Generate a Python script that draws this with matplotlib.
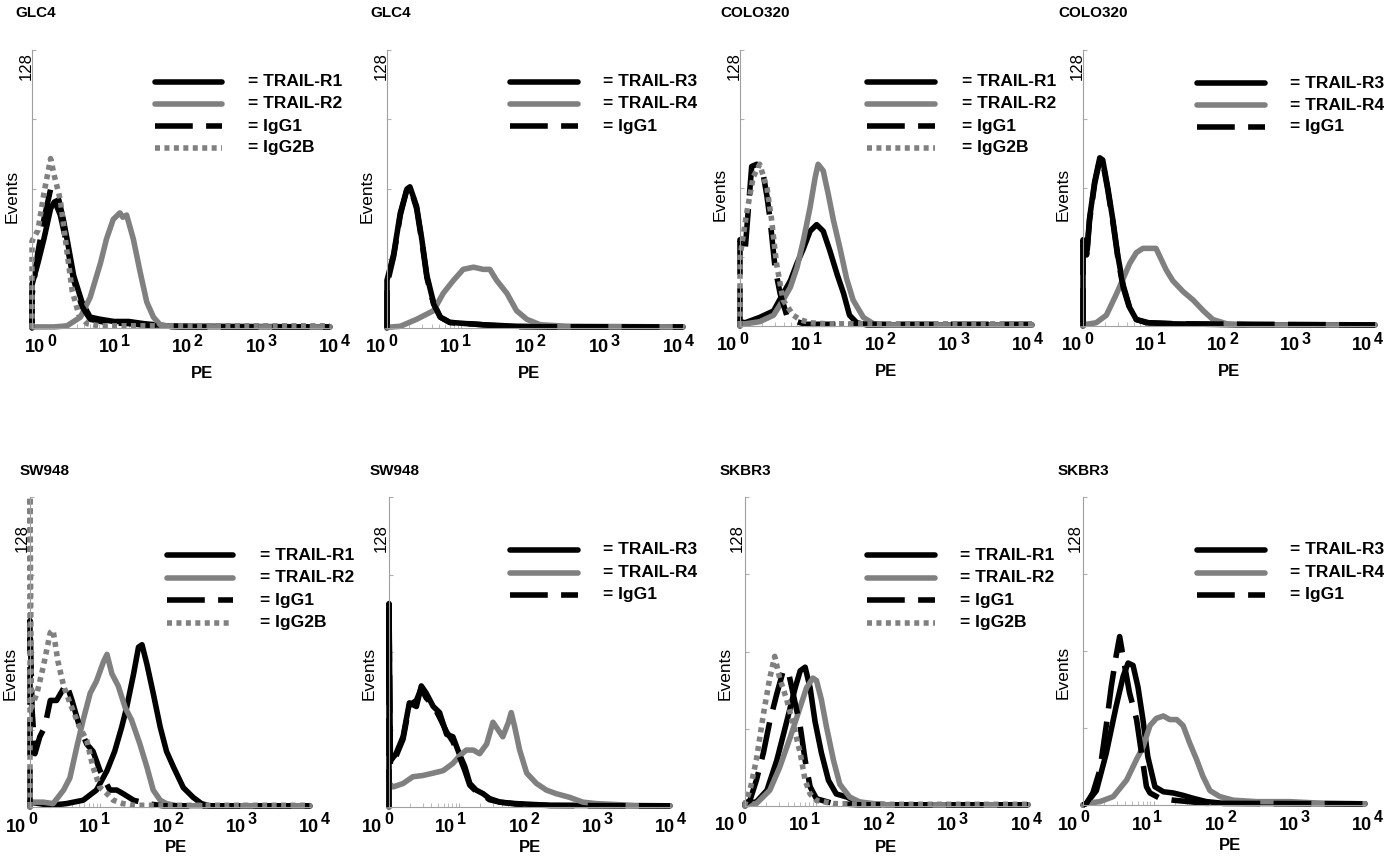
import numpy as np
import matplotlib
matplotlib.use('Agg')
import matplotlib.pyplot as plt
from matplotlib.lines import Line2D

plt.rcParams['font.family'] = ['Liberation Sans', 'DejaVu Sans']

W, H = 1387, 858

# histogram curves: (log10 PE, events) pairs
# GLC4, TRAIL-R1/R2
GLC4_R1 = [(0, 0), (0, 20), (0.08, 30), (0.16, 41), (0.25, 55), (0.3, 58), (0.36, 59), (0.42, 50),
           (0.47, 41), (0.56, 24), (0.67, 12), (0.78, 5), (0.92, 4), (1.1, 3), (1.3, 3), (1.5, 2),
           (1.8, 1), (2.2, 0.8), (4, 0.5)]
GLC4_R2 = [(0, 0.5), (0.3, 0.5), (0.47, 1), (0.65, 5), (0.78, 14), (0.92, 30), (1.0, 41), (1.09, 50),
           (1.18, 53), (1.22, 51), (1.27, 52), (1.36, 41), (1.45, 26), (1.54, 12), (1.63, 5),
           (1.72, 1.5), (1.9, 0.5), (4, 0.5)]
GLC4_IGG1_A = [(0, 0), (0, 15), (0.08, 35), (0.16, 50), (0.25, 64), (0.31, 58), (0.38, 52), (0.47, 38),
               (0.56, 22), (0.67, 10), (0.78, 4), (1.0, 2.5), (1.3, 2), (1.6, 1), (2, 0.5), (4, 0.5)]
GLC4_IGG2B = [(0, 0), (0, 40), (0.08, 45), (0.16, 62), (0.25, 78), (0.3, 70), (0.38, 59), (0.47, 35),
              (0.54, 17), (0.63, 6), (0.74, 2), (0.9, 1), (4, 1)]

# GLC4, TRAIL-R3/R4
GLC4_R3 = [(0, 0), (0, 22), (0.09, 34), (0.18, 53), (0.27, 64), (0.31, 65), (0.4, 56), (0.47, 41),
           (0.54, 24), (0.63, 11.5), (0.72, 5), (0.85, 2.6), (1.08, 2), (1.3, 1.5), (1.75, 0.8),
           (2.2, 0.5), (4, 0.5)]
GLC4_R4 = [(0, 0.3), (0.18, 0.8), (0.4, 4), (0.63, 8), (0.76, 16), (0.9, 22), (1.03, 27), (1.17, 28),
           (1.3, 27), (1.39, 27), (1.48, 22), (1.62, 16), (1.75, 8), (1.89, 4), (2.07, 1.5),
           (2.43, 0.8), (4, 0.5)]
GLC4_IGG1_B = [(0, 0), (0, 20), (0.09, 33), (0.18, 52), (0.27, 64), (0.32, 64), (0.4, 55), (0.47, 40),
               (0.54, 23), (0.63, 11), (0.72, 5), (0.85, 2.5), (1.1, 2), (1.4, 1.2), (1.8, 0.6), (4, 0.5)]

# COLO320, TRAIL-R1/R2
COLO_R1 = [(0, 0), (0, 2), (0.07, 1.5), (0.27, 4), (0.46, 7), (0.59, 15), (0.69, 21), (0.78, 29),
           (0.87, 36), (0.96, 44), (1.05, 47), (1.14, 44), (1.23, 35), (1.33, 24), (1.42, 15),
           (1.5, 5), (1.6, 1.5), (1.74, 0.5), (4, 0.5)]
COLO_R2 = [(0, 0), (0, 1), (0.07, 1), (0.27, 2), (0.46, 5), (0.59, 12), (0.69, 18), (0.78, 27),
           (0.87, 40), (0.96, 55), (1.03, 69), (1.07, 75), (1.14, 72), (1.21, 61), (1.28, 49),
           (1.37, 36), (1.46, 22), (1.55, 12), (1.69, 4), (1.83, 1), (2.0, 0.5), (4, 0.5)]
COLO_IGG1_A = [(0, 0), (0, 40), (0.07, 35), (0.16, 74), (0.23, 75), (0.3, 74), (0.37, 60), (0.41, 50),
               (0.48, 27), (0.55, 15), (0.64, 5), (0.78, 2), (0.9, 0.8), (4, 0.8)]
COLO_IGG2B = [(0, 0), (0, 32), (0.09, 52), (0.18, 69), (0.27, 75), (0.37, 64), (0.43, 50), (0.5, 29),
              (0.59, 12), (0.73, 5), (0.82, 3), (0.96, 1.5), (1.2, 1), (4, 1)]

# COLO320, TRAIL-R3/R4
COLO_R3 = [(0, 0), (0, 40), (0.05, 33), (0.09, 50), (0.16, 67), (0.23, 78), (0.27, 77), (0.34, 64),
           (0.41, 49), (0.48, 32), (0.55, 19), (0.64, 8.5), (0.73, 3), (0.87, 1.5), (1.23, 1),
           (1.7, 0.8), (2.2, 0.5), (4, 0.5)]
COLO_R4 = [(0, 0), (0, 1), (0.05, 0.8), (0.18, 1.5), (0.32, 5), (0.46, 15), (0.55, 22), (0.64, 29),
           (0.73, 34), (0.82, 36), (0.91, 36), (1.0, 36), (1.07, 31), (1.14, 26), (1.23, 21),
           (1.37, 16), (1.51, 12), (1.65, 7), (1.78, 3), (1.97, 1), (2.3, 0.5), (4, 0.5)]
COLO_IGG1_B = [(0, 0), (0, 38), (0.05, 32), (0.09, 49), (0.16, 66), (0.23, 77), (0.27, 76), (0.34, 63),
               (0.41, 48), (0.48, 31), (0.55, 18), (0.64, 8), (0.73, 3), (0.9, 1.5), (1.3, 1), (4, 0.5)]

# SW948, TRAIL-R1/R2
SW_R1 = [(0, 0), (0, 2), (0.29, 0.7), (0.52, 1.4), (0.76, 2.8), (0.95, 7), (1.1, 15), (1.21, 23),
         (1.31, 33), (1.38, 41), (1.48, 55), (1.55, 66), (1.6, 67), (1.67, 59), (1.76, 47), (1.86, 33),
         (1.95, 23), (2.05, 16.5), (2.19, 8), (2.33, 4), (2.45, 1.4), (2.57, 0.4), (4, 0.4)]
SW_R2 = [(0, 0), (0, 2), (0.19, 2), (0.33, 1.4), (0.48, 7), (0.57, 12), (0.67, 25), (0.76, 36),
         (0.86, 47), (0.95, 52), (1.05, 60), (1.1, 63), (1.17, 55), (1.26, 50), (1.36, 41), (1.45, 36),
         (1.57, 26), (1.67, 16.5), (1.76, 7), (1.86, 2.8), (1.95, 1.4), (2.1, 0.5), (4, 0.5)]
SW_IGG1_A = [(0, 0), (0, 77), (0.03, 40), (0.07, 22), (0.14, 29), (0.21, 33), (0.29, 44), (0.38, 44),
             (0.52, 51), (0.6, 44), (0.71, 33), (0.81, 26), (0.9, 23), (1.0, 15), (1.14, 7), (1.24, 7),
             (1.33, 5.5), (1.48, 2.8), (1.67, 1.4), (1.9, 0.5), (4, 0.5)]
SW_IGG2B = [(0, 0), (0, 128), (0.02, 41), (0.1, 47), (0.19, 58), (0.29, 72), (0.33, 73), (0.4, 60),
            (0.48, 50), (0.57, 43), (0.71, 33), (0.81, 27.5), (0.9, 16.5), (1.0, 8), (1.1, 5.5),
            (1.19, 2.8), (1.33, 1.4), (1.48, 0.7), (4, 0.7)]

# SW948, TRAIL-R3/R4
SW_R3 = [(0, 0), (0, 84), (0.02, 19), (0.1, 22), (0.2, 29), (0.29, 43), (0.39, 41.5), (0.46, 50),
         (0.53, 47), (0.63, 41.5), (0.72, 39), (0.82, 30), (0.91, 29), (1.0, 22), (1.08, 16.6),
         (1.15, 9.7), (1.24, 7), (1.34, 5.5), (1.43, 3.5), (1.58, 2), (1.81, 1.4), (2.29, 0.7), (4, 0.5)]
SW_R4 = [(0, 0), (0, 9.7), (0.06, 8.3), (0.2, 9.7), (0.34, 12.5), (0.48, 13), (0.63, 14), (0.77, 15),
         (0.91, 18), (1.0, 21), (1.1, 23.5), (1.2, 23.5), (1.29, 22), (1.39, 26), (1.48, 35),
         (1.55, 32), (1.62, 29), (1.7, 35), (1.74, 39), (1.79, 33), (1.86, 23.5), (1.96, 14),
         (2.1, 9.7), (2.24, 7), (2.38, 5.5), (2.57, 4), (2.76, 2), (2.95, 1.4), (3.24, 1), (3.5, 0.5),
         (4, 0.5)]
SW_IGG1_B = [(0, 0), (0, 80), (0.02, 17), (0.1, 21), (0.2, 28), (0.29, 42), (0.39, 44), (0.46, 49),
             (0.53, 45), (0.63, 42), (0.72, 37), (0.82, 31), (0.91, 27), (1.0, 21), (1.08, 15),
             (1.15, 9), (1.24, 6.5), (1.34, 5), (1.43, 3), (1.58, 2), (1.81, 1.2), (2.3, 0.6), (4, 0.5)]

# SKBR3, TRAIL-R1/R2
SK_R1 = [(0, 0), (0, 1), (0.16, 1.7), (0.31, 6.5), (0.45, 19), (0.59, 35), (0.71, 49), (0.78, 56),
         (0.85, 57.5), (0.92, 49), (0.99, 35), (1.08, 22), (1.18, 10.6), (1.29, 5), (1.44, 3.7),
         (1.58, 1.7), (1.72, 1), (2.0, 0.5), (4, 0.5)]
SK_R2 = [(0, 0), (0, 0.5), (0.16, 1), (0.35, 6.5), (0.49, 16), (0.64, 28.5), (0.78, 41), (0.87, 49),
         (0.96, 53), (1.01, 52), (1.08, 44), (1.15, 33), (1.25, 19), (1.34, 9), (1.48, 3.7),
         (1.62, 1.7), (1.81, 1), (2.0, 0.5), (4, 0.5)]
SK_IGG1_A = [(0, 0), (0, 1), (0.07, 2.3), (0.16, 10.6), (0.26, 22), (0.35, 35), (0.45, 46.5), (0.54, 56),
             (0.61, 56), (0.68, 46.5), (0.78, 33), (0.85, 19), (0.92, 8), (1.01, 3), (1.25, 1),
             (1.6, 0.5), (4, 0.5)]
SK_IGG2B = [(0, 0), (0, 1), (0.07, 6.5), (0.16, 19), (0.26, 38), (0.35, 53), (0.42, 62), (0.49, 53),
            (0.59, 44), (0.68, 34), (0.78, 22), (0.85, 10.6), (0.92, 5), (1.01, 2.3), (1.25, 1),
            (1.6, 0.7), (4, 0.7)]

# SKBR3, TRAIL-R3/R4
SK_R3 = [(0, 0), (0.05, 0.7), (0.19, 6), (0.33, 21.5), (0.47, 41), (0.57, 53.5), (0.64, 59), (0.71, 58),
         (0.78, 49), (0.85, 35.5), (0.92, 20), (1.02, 7.6), (1.14, 5.5), (1.28, 5), (1.42, 4),
         (1.56, 2.8), (1.75, 1.4), (1.99, 0.7), (4, 0.5)]
SK_R4 = [(0, 0), (0.05, 0.7), (0.24, 1.4), (0.43, 3.5), (0.62, 10.4), (0.76, 19), (0.85, 24), (0.95, 33),
         (1.04, 36), (1.14, 37), (1.23, 35.5), (1.33, 35.5), (1.42, 33), (1.51, 26), (1.61, 19),
         (1.7, 12), (1.8, 6), (1.94, 3.5), (2.13, 2), (2.46, 1.4), (2.93, 1.4), (3.4, 0.7), (4, 0.5)]
SK_IGG1_B = [(0, 0), (0.05, 0.7), (0.14, 5), (0.24, 14.6), (0.33, 33), (0.4, 49), (0.47, 62), (0.52, 70),
             (0.59, 58), (0.66, 46.6), (0.76, 35.5), (0.83, 21.5), (0.9, 7.6), (0.95, 5), (1.09, 2.8),
             (1.28, 2), (1.75, 0.7), (4, 0.5)]

TITLES = ['GLC4', 'GLC4', 'COLO320', 'COLO320', 'SW948', 'SW948', 'SKBR3', 'SKBR3']
NAMES_A = ['TRAIL-R1', 'TRAIL-R2', 'IgG1', 'IgG2B']
NAMES_B = ['TRAIL-R3', 'TRAIL-R4', 'IgG1']
PANEL_NAMES = [NAMES_A, NAMES_B] * 4
PANEL_CURVES = [
    [GLC4_R1, GLC4_R2, GLC4_IGG1_A, GLC4_IGG2B],
    [GLC4_R3, GLC4_R4, GLC4_IGG1_B],
    [COLO_R1, COLO_R2, COLO_IGG1_A, COLO_IGG2B],
    [COLO_R3, COLO_R4, COLO_IGG1_B],
    [SW_R1, SW_R2, SW_IGG1_A, SW_IGG2B],
    [SW_R3, SW_R4, SW_IGG1_B],
    [SK_R1, SK_R2, SK_IGG1_A, SK_IGG2B],
    [SK_R3, SK_R4, SK_IGG1_B],
]

# layout, in pixels of the 1387x858 picture
BOXES = [(32, 330, 50, 328), (387, 683, 50, 328), (740, 1032, 50, 326), (1083, 1375, 50, 326),
         (30, 310, 497, 807), (389, 670, 497, 807), (745, 1028, 497, 806), (1083, 1365, 497, 805)]
TITLE_POS = [(15, 13), (370, 13), (720, 13), (1058, 13), (20, 471), (370, 471), (720, 471), (1058, 471)]
LEGEND_POS = [(155, 222, 248, 82), (510, 578, 603, 82), (867, 935, 962, 82), (1197, 1265, 1290, 83),
              (167, 233, 260, 555), (510, 578, 603, 550), (867, 935, 960, 555), (1197, 1265, 1290, 550)]
LABEL_SHIFT = [(3, -1), (-11, -10), (-13, -10), (-11, -13), (-14, -1), (-17, -5), (-20, -7), (-15, -3)]
PE_FRAC = [0.57, 0.48, 0.5, 0.5, 0.52, 0.5, 0.5, 0.52]

GRAY = '#808080'
LW = 4.0
PT = 0.72  # points per pixel at dpi 100


def style(name):
    if name in ('TRAIL-R1', 'TRAIL-R3'):
        return dict(color='black', linestyle='-', solid_capstyle='round')
    if name in ('TRAIL-R2', 'TRAIL-R4'):
        return dict(color=GRAY, linestyle='-', solid_capstyle='round')
    if name == 'IgG1':
        return dict(color='black', linestyle=(0, (6.8, 2.4)), dash_capstyle='butt')
    return dict(color=GRAY, linestyle=(0, (0.9, 0.8)), dash_capstyle='butt')


fig = plt.figure(figsize=(W / 100, H / 100), dpi=100)

for i in range(8):
    l, r, t, b = BOXES[i]
    ax = fig.add_axes([l / W, 1 - b / H, (r - l) / W, (b - t) / H])
    top_row = i < 4

    for name, data in zip(PANEL_NAMES[i], PANEL_CURVES[i]):
        arr = np.array(data, dtype=float)
        ax.plot(10 ** arr[:, 0], arr[:, 1], lw=LW, clip_on=False,
                solid_joinstyle='round', **style(name))

    ax.set_xscale('log')
    ax.set_xlim(1, 1e4)
    ax.set_ylim(0, 128)
    for s in ('top', 'right'):
        ax.spines[s].set_visible(False)
    for s in ('left', 'bottom'):
        ax.spines[s].set_color('#a0a0a0')
        ax.spines[s].set_linewidth(0.8)
    ax.set_yticks([0, 32, 64, 96, 128])
    ax.tick_params(axis='y', length=3, direction='in', color='#b0b0b0', labelleft=False)
    ax.set_xticks([1, 10, 100, 1000, 10000])
    ax.tick_params(axis='x', which='both', length=3, direction='in', color='#b0b0b0',
                   labelbottom=False)

    # x tick labels, 10 with a large exponent
    s0, s4 = LABEL_SHIFT[i]
    for k in range(5):
        sh = s0 + (s4 - s0) * k / 4.0
        ax.annotate('10', xy=(10 ** k, 0), xycoords=('data', 'axes fraction'),
                    xytext=(sh * PT, -20 * PT), textcoords='offset points',
                    ha='center', va='center', fontsize=13, fontweight='bold', annotation_clip=False)
        ax.annotate(str(k), xy=(10 ** k, 0), xycoords=('data', 'axes fraction'),
                    xytext=((sh + 12) * PT, -13 * PT), textcoords='offset points',
                    ha='left', va='center', fontsize=11.5, fontweight='bold', annotation_clip=False)

    ax.annotate('PE', xy=(PE_FRAC[i], 0), xycoords='axes fraction',
                xytext=(0, (-45 if top_row else -41) * PT), textcoords='offset points',
                ha='center', va='center', fontsize=12, fontweight='bold')
    ax.annotate('Events', xy=(0, 0.475 if top_row else 0.43), xycoords='axes fraction',
                xytext=(-20 * PT, 0), textcoords='offset points',
                ha='center', va='center', rotation=90, fontsize=12.5)
    if top_row:
        ax.annotate('128', xy=(0, 1), xycoords='axes fraction', xytext=(-6 * PT, -2 * PT),
                    textcoords='offset points', ha='center', va='top', rotation=90, fontsize=12)
    else:
        ax.annotate('128', xy=(0, 0.868), xycoords='axes fraction', xytext=(-8 * PT, 0),
                    textcoords='offset points', ha='center', va='center', rotation=90, fontsize=12)

    # title
    tx, ty = TITLE_POS[i]
    fig.text(tx / W, 1 - ty / H, TITLES[i], ha='left', va='center', fontsize=11, fontweight='bold')

    # legend keys drawn by hand
    x0, x1, xt, y0 = LEGEND_POS[i]
    step = 22 if top_row else 22.5
    for j, name in enumerate(PANEL_NAMES[i]):
        yy = 1 - (y0 + j * step) / H
        fig.add_artist(Line2D([x0 / W, x1 / W], [yy, yy], transform=fig.transFigure,
                              lw=LW, **style(name)))
        fig.text(xt / W, yy, '= ' + name, ha='left', va='center', fontsize=12.5,
                 fontweight='bold')

fig.savefig('out.png', dpi=100)
